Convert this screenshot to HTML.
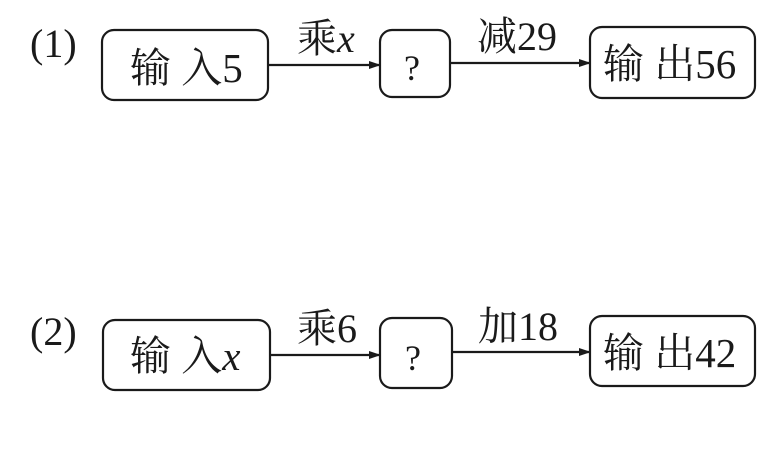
<!DOCTYPE html>
<html><head><meta charset="utf-8"><style>
body{margin:0;background:#fff}
text{font-family:"Liberation Serif","Noto Serif CJK SC",serif;fill:#1a1a1a}
</style></head><body>
<svg width="775" height="445" viewBox="0 0 775 445" xmlns="http://www.w3.org/2000/svg">
<defs><marker id="a" markerWidth="12" markerHeight="8" refX="11" refY="4" orient="auto" markerUnits="userSpaceOnUse"><path d="M0,0 L12,4 L0,8 Z" fill="#1a1a1a"/></marker></defs>
<g fill="none" stroke="#1a1a1a" stroke-width="2.2">
<rect x="102" y="30" width="166" height="70" rx="12"/>
<rect x="380" y="30" width="70" height="67" rx="12"/>
<rect x="590" y="27" width="165" height="71" rx="12"/>
<line x1="268" y1="65" x2="380" y2="65" marker-end="url(#a)"/>
<line x1="450" y1="63" x2="590" y2="63" marker-end="url(#a)"/>
<rect x="103" y="320" width="167" height="70" rx="12"/>
<rect x="380" y="318" width="72" height="70" rx="12"/>
<rect x="590" y="316" width="165" height="70" rx="12"/>
<line x1="270" y1="355" x2="380" y2="355" marker-end="url(#a)"/>
<line x1="452" y1="352" x2="590" y2="352" marker-end="url(#a)"/>
</g>
<g font-size="40">
<text x="30" y="57">(1)</text>
<text x="130" y="82" font-size="41">输 入5</text>
<text x="297" y="52">乘<tspan font-style="italic">x</tspan></text>
<text x="404" y="80" font-size="36">?</text>
<text x="477" y="50">减29</text>
<text x="603" y="78" font-size="41">输 出56</text>
<text x="30" y="345">(2)</text>
<text x="130" y="370" font-size="41">输 入<tspan font-style="italic">x</tspan></text>
<text x="297" y="342">乘6</text>
<text x="405" y="370" font-size="36">?</text>
<text x="478" y="340">加18</text>
<text x="603" y="367" font-size="41">输 出42</text>
</g>
</svg>
</body></html>
